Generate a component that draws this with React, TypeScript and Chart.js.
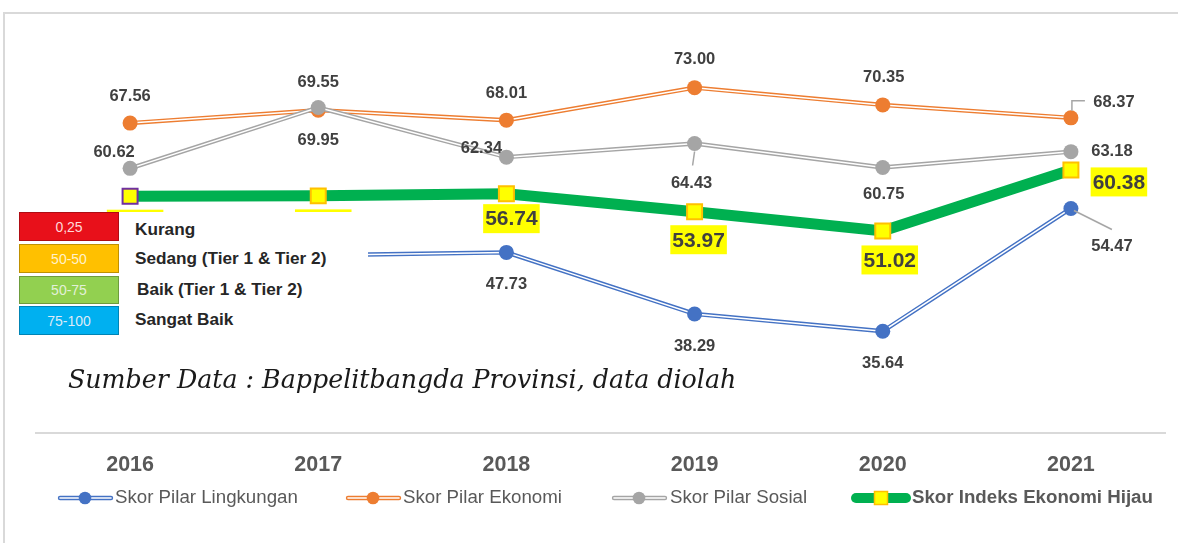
import React, { useEffect, useRef } from 'react';
import { Chart, registerables } from 'chart.js';

Chart.register(...registerables);

// ---------- data ----------
const years = ['2016', '2017', '2018', '2019', '2020', '2021'];
const pilarLingkungan = [null, 47.3, 47.73, 38.29, 35.64, 54.47];
const pilarEkonomi = [67.56, 69.55, 68.01, 73.0, 70.35, 68.37];
const pilarSosial = [60.62, 69.95, 62.34, 64.43, 60.75, 63.18];
const indeksHijau = [56.35, 56.4, 56.74, 53.97, 51.02, 60.38];

const seriesNames = ['Skor Pilar Lingkungan', 'Skor Pilar Ekonomi', 'Skor Pilar Sosial', 'Skor Indeks Ekonomi Hijau'];
const yMin = 20;
const yMax = 80;

const categoryBoxes = ['0,25', '50-50', '50-75', '75-100'];
const categoryNames = ['Kurang', 'Sedang (Tier 1 & Tier 2)', 'Baik (Tier 1 & Tier 2)', 'Sangat Baik'];
const sourceNote = 'Sumber Data : Bappelitbangda Provinsi, data diolah';

// ---------- styles ----------
const BLUE = '#4472C4';
const ORANGE = '#ED7D31';
const GRAY = '#A5A5A5';
const GREEN = '#00B050';

const labelFont = 'bold 16.5px "Liberation Sans", Arial, sans-serif';
const bigLabelFont = 'bold 21px "Liberation Sans", Arial, sans-serif';

// label offsets (px, relative to point)
const offBlue = [[0, 31], [0, 31], [0, 31], [0, 32], [0, 31], [41, 37]];
const offOrange = [[0, -28], [0, -29], [0, -28], [0, -29], [1, -28], [43, -16]];
const offGray = [[-16, -17], [0, 32], [-25, -10], [-3, 39], [1, 26], [41, -1]];
const offGreen = [[5, 28], [5, 28], [5, 25], [4, 28], [7, 29], [48, 12]];

const labelSpecs = [
  { ds: 2, values: pilarLingkungan, offsets: offBlue, font: labelFont, leaders: { 5: [[3, 2], [41, 21]] } },
  { ds: 5, values: pilarEkonomi, offsets: offOrange, font: labelFont, leaders: { 5: [[1, -7], [1, -17], [14, -17]] } },
  { ds: 8, values: pilarSosial, offsets: offGray, font: labelFont, leaders: { 3: [[0, 8], [-2, 22]] } },
  { ds: 9, values: indeksHijau, offsets: offGreen, font: bigLabelFont, bg: '#FFFF00', boxH: 29 },
];

const labelPlugin = {
  id: 'valueLabels',
  afterDatasetsDraw(chart: any) {
    const ctx = chart.ctx as CanvasRenderingContext2D;
    ctx.save();
    for (const spec of labelSpecs) {
      const meta = chart.getDatasetMeta(spec.ds);
      spec.values.forEach((v: number | null, i: number) => {
        if (v == null) return;
        const pt = meta.data[i];
        if (!pt) return;
        const [dx, dy] = spec.offsets[i];
        const x = pt.x + dx;
        const y = pt.y + dy;
        const lead = (spec as any).leaders?.[i];
        if (lead) {
          ctx.beginPath();
          ctx.strokeStyle = '#A6A6A6';
          ctx.lineWidth = 1.5;
          lead.forEach(([lx, ly]: number[], k: number) => {
            if (k === 0) ctx.moveTo(pt.x + lx, pt.y + ly);
            else ctx.lineTo(pt.x + lx, pt.y + ly);
          });
          ctx.stroke();
        }
        const text = v.toFixed(2);
        ctx.font = spec.font;
        if ((spec as any).bg) {
          const w = ctx.measureText(text).width + 4;
          const h = (spec as any).boxH;
          ctx.fillStyle = (spec as any).bg;
          ctx.fillRect(x - w / 2, y - h / 2, w, h);
        }
        ctx.fillStyle = '#404040';
        ctx.textAlign = 'center';
        ctx.textBaseline = 'middle';
        ctx.fillText(text, x, y + 1);
      });
    }
    ctx.restore();
  },
};

function doubleLine(label: string, data: (number | null)[], color: string, order: number) {
  return [
    { label, data, borderColor: color, borderWidth: 4.4, pointRadius: 0, order: order + 2, tension: 0 },
    { label: label + ' (inner)', data, borderColor: '#FFFFFF', borderWidth: 1.5, pointRadius: 0, order: order + 1, tension: 0 },
    {
      label: label + ' (points)', data, showLine: false, pointRadius: 7.5, pointHoverRadius: 7.5,
      pointBackgroundColor: color, pointBorderWidth: 0, order,
    },
  ];
}

function LegendMarker({ color, green }: { color: string; green?: boolean }) {
  if (green) {
    return (
      <svg width="60" height="16" style={{ display: 'block' }}>
        <line x1="5" y1="8" x2="55" y2="8" stroke={GREEN} strokeWidth="10" strokeLinecap="round" />
        <rect x="23.5" y="1.5" width="13" height="13" fill="#FFFF00" stroke="#FFC000" strokeWidth="1.5" />
      </svg>
    );
  }
  return (
    <svg width="58" height="16" style={{ display: 'block' }}>
      <line x1="3" y1="8" x2="54" y2="8" stroke={color} strokeWidth="4.4" strokeLinecap="round" />
      <line x1="3" y1="8" x2="54" y2="8" stroke="#FFFFFF" strokeWidth="1.6" strokeLinecap="round" />
      <circle cx="28" cy="8" r="6.3" fill={color} />
    </svg>
  );
}

export default function App() {
  const ref = useRef<HTMLCanvasElement>(null);

  useEffect(() => {
    const pointBorders = indeksHijau.map((_, i) => (i === 0 ? '#7030A0' : '#FFC000'));
    const chart = new Chart(ref.current as HTMLCanvasElement, {
      type: 'line',
      data: {
        labels: years,
        datasets: [
          ...doubleLine(seriesNames[0], pilarLingkungan, BLUE, 10),
          ...doubleLine(seriesNames[1], pilarEkonomi, ORANGE, 7),
          ...doubleLine(seriesNames[2], pilarSosial, GRAY, 4),
          {
            label: seriesNames[3], data: indeksHijau, borderColor: GREEN, borderWidth: 11,
            pointStyle: 'rect', pointRadius: 10.6, pointHoverRadius: 10.6,
            pointBackgroundColor: '#FFFF00', pointBorderColor: pointBorders, pointBorderWidth: 2,
            order: 1, tension: 0,
          },
        ] as any,
      },
      options: {
        animation: false,
        responsive: false,
        maintainAspectRatio: false,
        events: [],
        layout: { padding: { top: 42, left: 36, right: 13, bottom: 46 } },
        plugins: { legend: { display: false }, tooltip: { enabled: false } },
        scales: {
          x: {
            type: 'category',
            offset: true,
            grid: { display: false, drawTicks: false },
            border: { display: true, color: '#D9D9D9', width: 2 },
            ticks: {
              padding: 19,
              color: '#595959',
              font: { family: '"Liberation Sans", Arial, sans-serif', size: 21.5, weight: 'bold' },
            },
          },
          y: { display: false, min: yMin, max: yMax },
        },
      },
      plugins: [labelPlugin],
    });
    return () => chart.destroy();
  }, []);

  const legendPos = [
    { marker: 57, text: 115, color: BLUE },
    { marker: 345, text: 403, color: ORANGE },
    { marker: 611, text: 670, color: GRAY },
    { marker: 851, text: 912, color: GREEN },
  ];
  const boxColors = ['#E8101A', '#FFC000', '#92D050', '#00B0F0'];
  const boxText = ['#FFD9D9', '#FFF2CC', '#E2F0D9', '#DDEBF7'];
  const boxTops = [212, 244, 276, 306];
  const boxHeights = [29, 29, 28, 29];
  const nameCenters = [229, 258, 289, 319];
  const nameLeft = [135, 135, 137, 135];

  return (
    <div style={{ position: 'absolute', left: 0, top: 0, width: 1178, height: 543, overflow: 'hidden', background: '#fff' }}>
      <canvas ref={ref} width={1178} height={543} style={{ position: 'absolute', left: 0, top: 0 }} />
      <div style={{ position: 'absolute', left: 3, top: 12, width: 1200, height: 600, borderTop: '2px solid #D9D9D9', borderLeft: '2px solid #D9D9D9', pointerEvents: 'none' }} />
      {/* category key overlay */}
      <div style={{ position: 'absolute', left: 6, top: 212, width: 362, height: 140, background: '#FFFFFF' }} />
      {categoryBoxes.map((t, i) => (
        <div key={t} style={{
          position: 'absolute', left: 19, top: boxTops[i], width: 100, height: boxHeights[i], boxSizing: 'border-box',
          background: boxColors[i], border: '1px solid rgba(0,0,0,0.25)', color: boxText[i],
          font: '14px "Liberation Sans", Arial, sans-serif', display: 'flex', alignItems: 'center', justifyContent: 'center',
        }}>{t}</div>
      ))}
      {categoryNames.map((t, i) => (
        <div key={t} style={{
          position: 'absolute', left: nameLeft[i], top: nameCenters[i] - 10, height: 20, lineHeight: '20px',
          font: 'bold 17.2px "Liberation Sans", Arial, sans-serif', color: '#262626', whiteSpace: 'nowrap',
        }}>{t}</div>
      ))}
      <div style={{
        position: 'absolute', left: 68, top: 365, height: 28, lineHeight: '28px', whiteSpace: 'nowrap',
        font: 'italic 25.3px "DejaVu Serif", serif', color: '#1a1a1a',
      }}>{sourceNote}</div>
      {/* series legend */}
      {seriesNames.map((name, i) => (
        <React.Fragment key={name}>
          <div style={{ position: 'absolute', left: legendPos[i].marker, top: 490 }}>
            <LegendMarker color={legendPos[i].color} green={i === 3} />
          </div>
          <div style={{
            position: 'absolute', left: legendPos[i].text, top: 486, height: 24, lineHeight: '24px', whiteSpace: 'nowrap',
            font: `${i === 3 ? 'bold ' : ''}18.7px "Liberation Sans", Arial, sans-serif`, color: '#595959',
          }}>{name}</div>
        </React.Fragment>
      ))}
    </div>
  );
}
